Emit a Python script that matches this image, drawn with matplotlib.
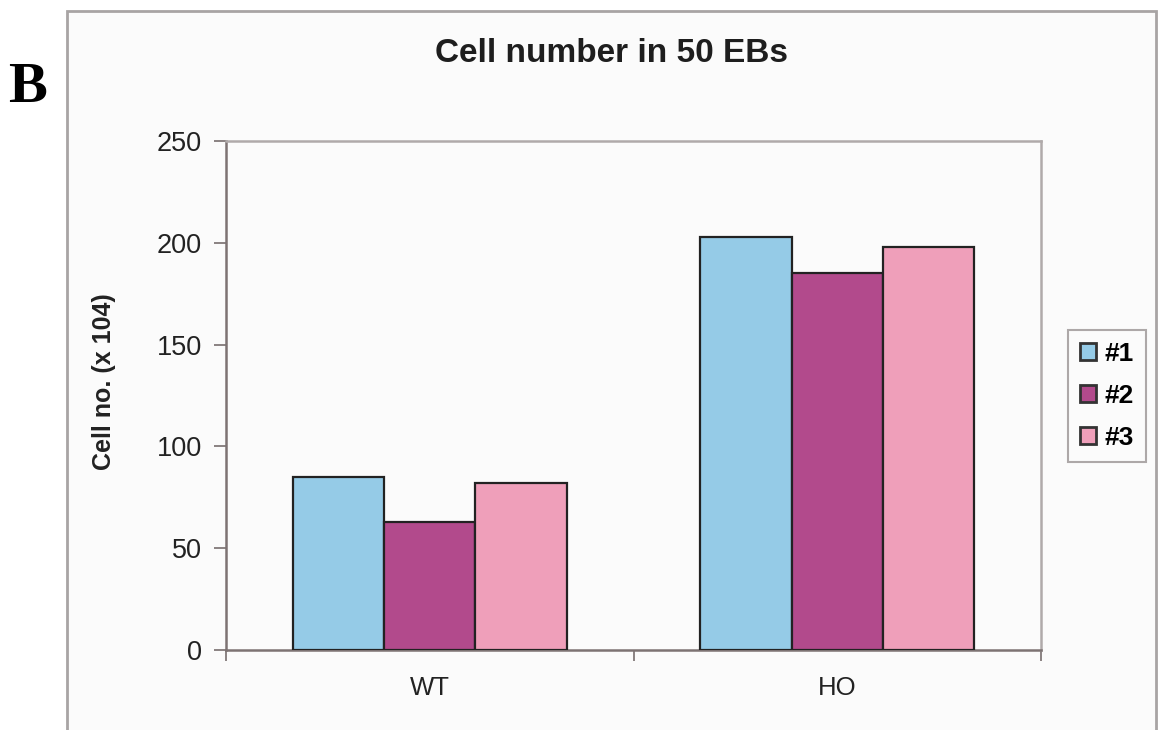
import matplotlib
matplotlib.use("Agg")
import matplotlib.pyplot as plt
from matplotlib.patches import Rectangle
import numpy as np

categories = ["WT", "HO"]
series_names = ["#1", "#2", "#3"]
series_values = [
    [85, 203],   # #1
    [63, 185],   # #2
    [82, 198],   # #3
]
colors = ["#95cbe7", "#b24a8c", "#ef9fba"]
y_ticks = [0, 50, 100, 150, 200, 250]

W, H = 1159, 730
fig = plt.figure(figsize=(W / 100, H / 100), dpi=100)
fig.patch.set_facecolor("white")

# outer chart frame
frame = Rectangle((67 / W, -0.05), (1156 - 67) / W, 1.05 - 11 / H,
                  transform=fig.transFigure, fill=True,
                  facecolor="#fbfbfb", edgecolor="#a8a4a4",
                  linewidth=2.0, zorder=-10)
fig.patches.append(frame)

ax = fig.add_axes([226 / W, 1 - 650 / H, (1041 - 226) / W, (650 - 141) / H])
ax.set_zorder(1)
ax.set_facecolor("#fbfbfb")

x = np.arange(len(categories))
bw = 0.224
for i, (name, vals) in enumerate(zip(series_names, series_values)):
    ax.bar(x + (i - 1) * bw, vals, width=bw, color=colors[i],
           edgecolor="#222222", linewidth=1.6, label=name, zorder=3)

ax.set_xlim(-0.5, 1.5)
ax.set_ylim(0, 250)
ax.set_yticks(y_ticks)
ax.set_yticklabels([str(v) for v in y_ticks], fontsize=19.5,
                   family="Liberation Sans", color="#222222")

ax.set_xticks([-0.5, 0.5, 1.5])
ax.set_xticklabels([])
ax.set_xticks(x, minor=True)
ax.set_xticklabels(categories, minor=True, fontsize=18.5,
                   family="Liberation Sans", color="#222222")
ax.tick_params(axis="x", which="minor", length=0, pad=19)
ax.tick_params(axis="x", which="major", length=8, color="#8a8282", width=1.4)
ax.tick_params(axis="y", length=8.5, color="#8a8282", width=1.4, pad=9)

for side in ["left", "bottom"]:
    ax.spines[side].set_color("#7d7373")
    ax.spines[side].set_linewidth(1.8)
for side in ["top", "right"]:
    ax.spines[side].set_color("#b0aaaa")
    ax.spines[side].set_linewidth(1.8)

ax.set_ylabel("Cell no. (x 104)", fontsize=18, fontweight="bold",
              family="Liberation Sans", color="#222222")
ax.yaxis.set_label_coords((116 - 226) / 815, 0.528)

fig.text(611 / W, 1 - 54 / H, "Cell number in 50 EBs", ha="center", va="center",
         fontsize=24, fontweight="bold", family="Liberation Sans", color="#1e1e1e")

fig.text(8 / W, 1 - 88 / H, "B", ha="left", va="center", fontsize=42,
         fontweight="bold", family="Liberation Serif", color="black")

leg = ax.legend(loc="upper left", bbox_to_anchor=(1068 / W, 1 - 330 / H),
                bbox_transform=fig.transFigure,
                prop={"family": "Liberation Sans", "weight": "bold", "size": 19},
                frameon=True, fancybox=False, edgecolor="#9a9494",
                handlelength=0.6, handleheight=0.6, handletextpad=0.35,
                labelspacing=0.68, borderpad=0.45, borderaxespad=0)
leg.get_frame().set_linewidth(1.5)
leg.get_frame().set_facecolor("#fbfbfb")
for h in leg.legend_handles:
    h.set_linewidth(2.0)
    h.set_edgecolor("#333333")

fig.savefig("out.png", dpi=100)
